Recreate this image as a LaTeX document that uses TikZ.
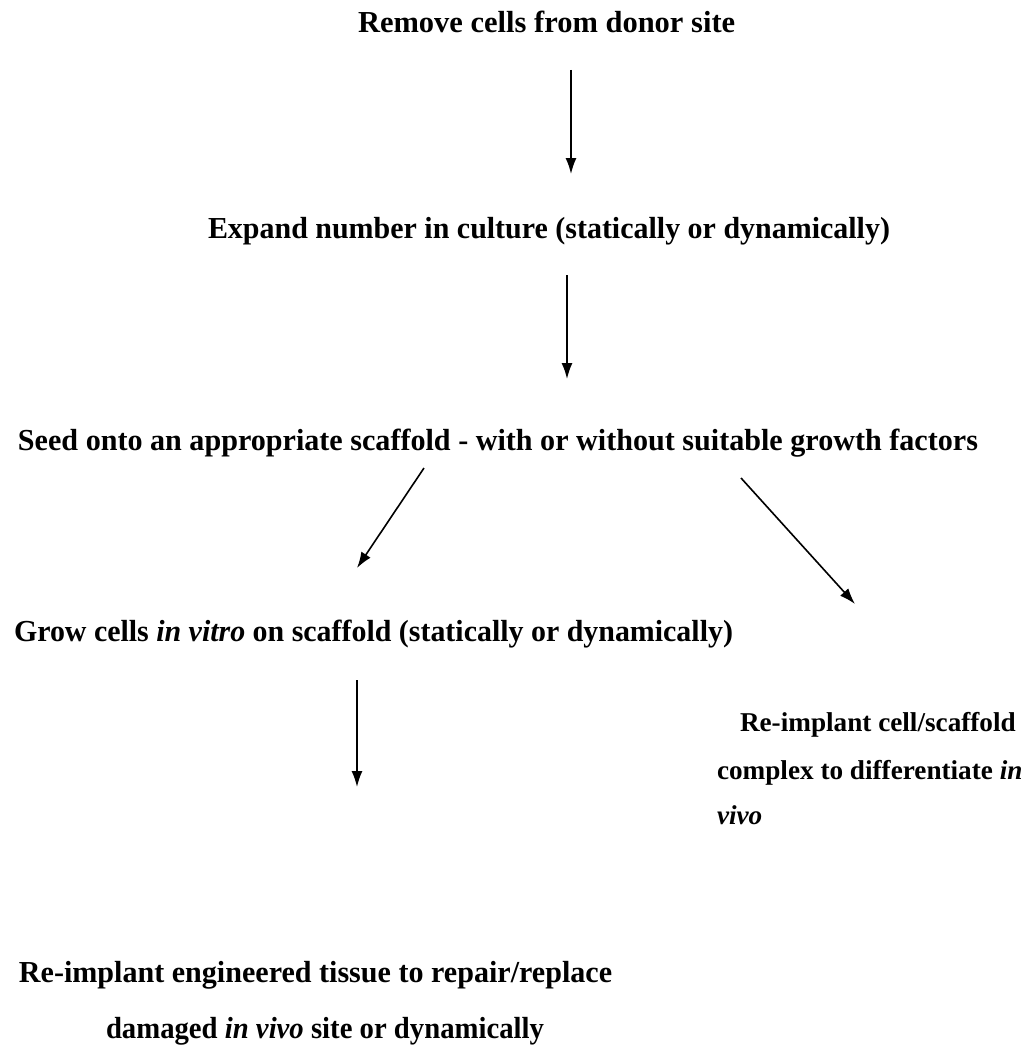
\documentclass[tikz,border=0pt]{standalone}
\usepackage{fontspec}
\setmainfont{Liberation Serif}
\usepackage{graphicx}
\usetikzlibrary{arrows.meta}
\newcommand\fitw[2]{\resizebox{#1}{\height}{#2}}
\tikzset{
  line/.style={inner sep=0pt, outer sep=0pt, anchor=base west, font=\fontsize{30.5}{36}\selectfont\bfseries},
  side/.style={inner sep=0pt, outer sep=0pt, anchor=base west, font=\fontsize{27.2}{33}\selectfont\bfseries},
  flow/.style={line width=1.6pt, -{Latex[length=16pt,width=11pt]}}
}
\begin{document}
\begin{tikzpicture}[x=1pt,y=-1pt]
\useasboundingbox[fill=white] (0,0) rectangle (1031,1049);
\node[line] (remove) at (358,33) {Remove cells from donor site};
\node[line] (expand) at (208,238) {\fitw{682pt}{Expand number in culture (statically or dynamically)}};
\node[line] (seed) at (18,450) {\fitw{960pt}{Seed onto an appropriate scaffold - with or without suitable growth factors}};
\node[line] (grow) at (14,641) {\fitw{719pt}{Grow cells \textit{in vitro} on scaffold (statically or dynamically)}};
\node[side] (ri1) at (740,731) {Re-implant cell/scaffold};
\node[side] (ri2) at (717,779) {complex to differentiate \textit{in}};
\node[side] (ri3) at (717,824) {\textit{vivo}};
\node[line] (et1) at (19,982) {\fitw{593pt}{Re-implant engineered tissue to repair/replace}};
\node[line] (et2) at (106,1038) {\fitw{438pt}{damaged \textit{in vivo} site or dynamically}};
\coordinate (a1s) at (571,70);  \coordinate (a1e) at (571,174);
\coordinate (a2s) at (567,275); \coordinate (a2e) at (567,379);
\coordinate (a3s) at (424,468); \coordinate (a3e) at (357,568);
\coordinate (a4s) at (741,478); \coordinate (a4e) at (855,604);
\coordinate (a5s) at (357,680); \coordinate (a5e) at (357,787);
\draw[flow] (a1s) -- (a1e);
\draw[flow] (a2s) -- (a2e);
\draw[flow] (a3s) -- (a3e);
\draw[flow] (a4s) -- (a4e);
\draw[flow] (a5s) -- (a5e);
\end{tikzpicture}
\end{document}
